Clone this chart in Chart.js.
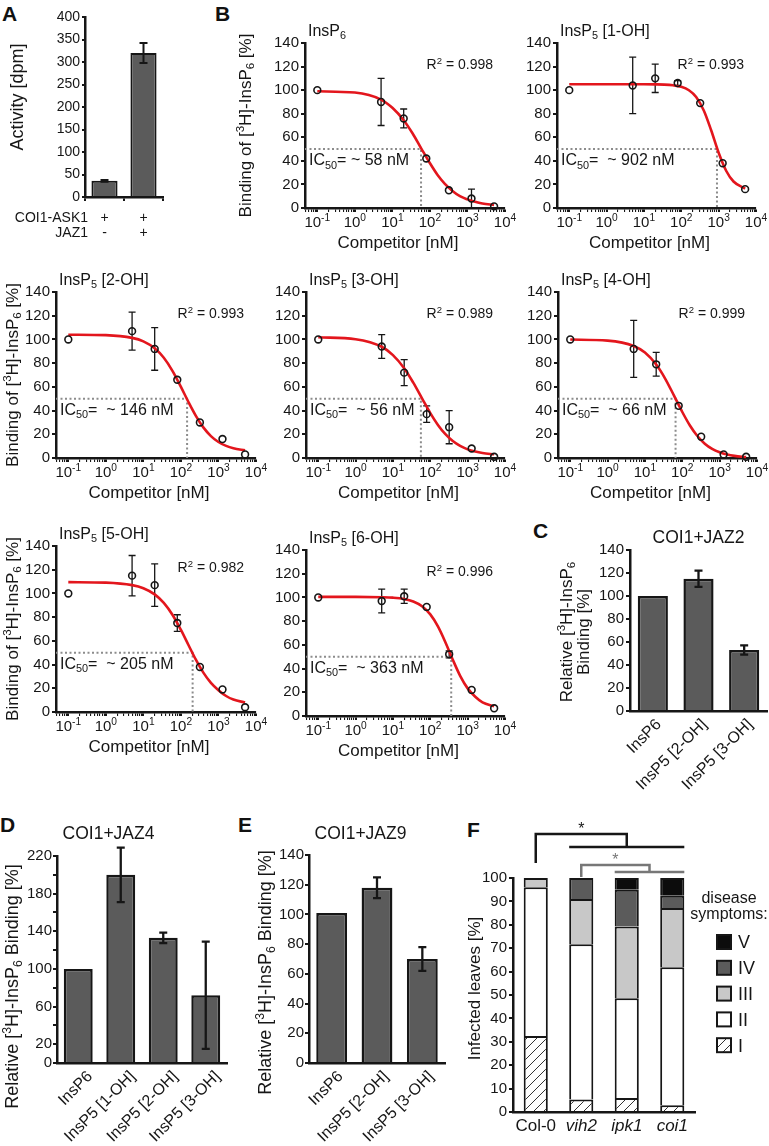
<!DOCTYPE html>
<html><head><meta charset="utf-8">
<script src="https://cdn.jsdelivr.net/npm/chart.js@4.4.1/dist/chart.umd.min.js"></script>
<style>
html,body{margin:0;padding:0;background:#fff;}
#page{position:relative;width:769px;height:1146px;overflow:hidden;}
#page canvas{position:absolute;}
.lt{position:absolute;font:bold 21px "Liberation Sans",Arial,sans-serif;line-height:1;color:#111;}
</style></head><body>
<div id="page">
  <div class="lt" style="left:2px;top:3px">A</div>
  <div class="lt" style="left:215px;top:3px">B</div>
  <div class="lt" style="left:533px;top:520px">C</div>
  <div class="lt" style="left:0px;top:814px">D</div>
  <div class="lt" style="left:238px;top:814px">E</div>
  <div class="lt" style="left:467px;top:819px">F</div>
</div>
<script>
// ---- data ----
// A: activity
const aRows=['COI1-ASK1','JAZ1'];
const aAsk=['+','+'];
const aJaz=['-','+'];
const aVal=[36,320];
const aErr=[2,22];

// B: competition curves (competitor in nM)
const conc=[0.1,5,20,80,320,1280,5120];
const fitX=[0.1,1,5,10,20,35,60,100,160,250,400,630,1000,1600,2500,5120];
const mInsP6=[100,90,76,42,15,8,1.4], sInsP6=[0,20,8,0,0,8,0];
const m1OH=[100,104,110,106,89,38,16], s1OH=[0,24,12,2,0,0,0];
const m2OH=[100,107,92,66,30,16,3],    s2OH=[0,16,18,0,0,0,0];
const m3OH=[100,94,72,37,26,8,1],      s3OH=[0,10,11,7,14,0,0];
const m4OH=[100,92,79,44,18,3,1],      s4OH=[0,24,10,0,0,0,0];
const m5OH=[100,115,107,75,38,19,4],   s5OH=[0,17,18,7,0,0,0];
const m6OH=[100,97,101,92,52,22,6.5],  s6OH=[0,10,6,0,3,0,0];
const fInsP6=[99,98,92,85,74.5,63,50,38,28,20.5,14.5,10,7.3,5.2,3.8,2.6];
const f1OH=[105,105,105,105,104.9,104.7,104.1,102.8,99.9,94.2,82.8,66,46.9,31.4,22.5,16.4];
const f2OH=[104,103.6,101.3,98.4,92.5,84.5,73.3,60,47,35.6,25.6,18.5,13.5,10.2,8.2,6.5];
const f3OH=[101.8,100.2,93.8,86.8,75.7,63.5,50.3,37.9,27.9,20.3,14.3,10.2,7.3,5.4,4.2,3.1];
const f4OH=[99.9,99,94.5,88.9,78.8,66.8,52.6,38.8,27.4,18.8,12.1,7.7,4.8,2.9,1.8,0.8];
const f5OH=[109.5,109.1,107,104.4,99.2,92,81.8,69.2,56.3,44.1,33,24.6,18.4,13.5,10.5,8];
const f6OH=[100.5,100.5,100.2,99.8,98.7,96.6,92.6,85.7,75.6,62.7,47.5,33.9,23.3,16.2,11.5,8.2];
const bIC50=[58,902,146,56,66,205,363];
const bR2=['0.998','0.993','0.993','0.989','0.999','0.982','0.996'];
const bMajor=[0.1,1,10,100,1000,10000];
const bMajorLbl=['10^{-1}','10^{0}','10^{1}','10^{2}','10^{3}','10^{4}'];

// C, D, E: relative binding
const cCats=['InsP6','InsP5 [2-OH]','InsP5 [3-OH]'];
const cVal=[100,115,53], cErr=[0,7,4];
const dCats=['InsP6','InsP5 [1-OH]','InsP5 [2-OH]','InsP5 [3-OH]'];
const dVal=[100,200,133,72], dErr=[0,29,5.5,57];
const dTickLabels=[0,20,60,100,140,180,220];
const eCats=['InsP6','InsP5 [2-OH]','InsP5 [3-OH]'];
const eVal=[101,118,70], eErr=[0,7,8];

// F: infected leaves, stacked by symptom class
const fCats=['Col-0','vih2','ipk1','coi1'];
const fLevels=['I','II','III','IV','V'];
const fI=[32.5,5.3,6,2.9];
const fII=[63.5,66.4,42.6,59];
const fIII=[4,19.3,30.7,25.3];
const fIV=[0,9,15.7,5.2];
const fV=[0,0,5,7.6];

// ---- helpers ----
const FAM='"Liberation Sans", Arial, Helvetica, sans-serif';
const INK='#161616', BAR='#5b5b5b', RED='#e3161d', DOT='#8c8c8c';
const X_MIN=0.047;
Chart.defaults.font.family=FAM;
Chart.defaults.color=INK;
Chart.defaults.animation=false;
Chart.defaults.responsive=false;
Chart.defaults.maintainAspectRatio=false;
Chart.defaults.plugins.legend.display=false;
Chart.defaults.plugins.tooltip.enabled=false;
const page=document.getElementById('page');

function box(L,T,R,B,lw,tp,rp,bh){
  const w=R-L+lw+rp,h=B-T+tp+bh,c=document.createElement('canvas');
  c.width=w;c.height=h;c.style.left=(L-lw)+'px';c.style.top=(T-tp)+'px';
  c.style.width=w+'px';c.style.height=h+'px';page.appendChild(c);return c;
}
const lay=(tp,rp)=>({padding:{top:tp,right:rp,left:0,bottom:0}});
const fitY=w=>s=>{s.width=w;s.paddingTop=0;s.paddingBottom=0;};
const fitXh=h=>s=>{s.height=h;s.paddingLeft=0;s.paddingRight=0;};

function parts(str){
  const out=[],re=/([_^])\{([^}]*)\}/g;let last=0,m;
  while((m=re.exec(str))){
    if(m.index>last)out.push({t:str.slice(last,m.index),k:0});
    out.push({t:m[2],k:m[1]==='_'?1:-1});last=re.lastIndex;
  }
  if(last<str.length)out.push({t:str.slice(last),k:0});
  return out;
}
// text with _{sub} and ^{sup}; y is the visual middle
function rich(c,str,x,y,size,align,style){
  const ps=parts(str),fnt=s=>(style?style+' ':'')+s+'px '+FAM;let w=0;
  ps.forEach(p=>{p.s=p.k?size*0.68:size;c.font=fnt(p.s);p.w=c.measureText(p.t).width;w+=p.w;});
  let cx=align==='center'?x-w/2:align==='right'?x-w:x;
  const base=y+size*0.36;
  c.textAlign='left';c.textBaseline='alphabetic';
  ps.forEach(p=>{c.font=fnt(p.s);c.fillText(p.t,cx,base+(p.k===1?size*0.2:p.k===-1?-size*0.4:0));cx+=p.w;});
}
function vrich(c,str,x,y,size){c.save();c.translate(x,y);c.rotate(-Math.PI/2);rich(c,str,0,0,size,'center');c.restore();}

function errBars(ch,di,err,cap,lw){
  const meta=ch.getDatasetMeta(di),ys=ch.scales.y,c=ch.ctx,ds=ch.data.datasets[di];
  c.save();c.strokeStyle=INK;c.lineWidth=lw;c.beginPath();
  meta.data.forEach((el,i)=>{
    const e=err[i];if(!e)return;
    const d=ds.data[i],v=(d&&typeof d==='object')?d.y:d;
    const x=el.x,y1=ys.getPixelForValue(v-e),y2=ys.getPixelForValue(v+e);
    c.moveTo(x,y1);c.lineTo(x,y2);
    c.moveTo(x-cap,y1);c.lineTo(x+cap,y1);c.moveTo(x-cap,y2);c.lineTo(x+cap,y2);
  });
  c.stroke();c.restore();
}

// log ticks 1..9 x 10^n
const logTicks=[];
for(let e=-2;e<=3;e++)for(let k=1;k<=9;k++){const v=+(k*Math.pow(10,e)).toPrecision(3);if(v>=X_MIN&&v<=1e4)logTicks.push(v);}
logTicks.push(1e4);

// ---- A ----
(function(){
  const lw=85,tp=17,rp=12,bh=48;
  const cv=box(85,17,163,197,lw,tp,rp,bh);
  new Chart(cv,{type:'bar',
    data:{labels:aAsk.map((s,i)=>s+'/'+aJaz[i]),datasets:[{data:aVal,backgroundColor:BAR,borderColor:INK,borderWidth:2,categoryPercentage:1,barPercentage:0.67}]},
    options:{layout:lay(tp,rp),scales:{
      x:{grid:{offset:true,drawOnChartArea:false,tickLength:4,color:INK,lineWidth:2},ticks:{display:false},border:{color:INK,width:2.5},afterFit:fitXh(bh)},
      y:{min:0,max:400,ticks:{stepSize:50,font:{size:14},color:INK,padding:2,autoSkip:false},grid:{drawOnChartArea:false,tickLength:3,color:INK,lineWidth:2},border:{color:INK,width:2.5},afterFit:fitY(lw)}}},
    plugins:[{id:'a',
      afterDatasetsDraw(ch){errBars(ch,0,aErr,4,2);},
      afterDraw(ch){
        const c=ch.ctx,a=ch.chartArea,xs=ch.scales.x;c.save();c.fillStyle=INK;
        rich(c,aRows[0],a.left+3,a.bottom+20,14,'right');
        rich(c,aRows[1],a.left+3,a.bottom+35,14,'right');
        aAsk.forEach((s,i)=>{const x=xs.getPixelForValue(i);rich(c,s,x,a.bottom+20,14,'center');rich(c,aJaz[i],x,a.bottom+35,14,'center');});
        vrich(c,'Activity [dpm]',a.left-68,(a.top+a.bottom)/2-10,18);
        c.restore();
      }}]
  });
})();

// ---- B ----
const bPanels=[
  {name:'InsP_{6}',       m:mInsP6,s:sInsP6,f:fInsP6,sep:' ', L:305,T:43, R:505,B:208,lw:80,yt:60.5},
  {name:'InsP_{5} [1-OH]',m:m1OH,s:s1OH,f:f1OH,sep:'  ',L:557,T:43, R:756,B:208,lw:56},
  {name:'InsP_{5} [2-OH]',m:m2OH,s:s2OH,f:f2OH,sep:'  ',L:56, T:292,R:256,B:458,lw:56,yt:44.5},
  {name:'InsP_{5} [3-OH]',m:m3OH,s:s3OH,f:f3OH,sep:'  ',L:306,T:292,R:505,B:458,lw:56},
  {name:'InsP_{5} [4-OH]',m:m4OH,s:s4OH,f:f4OH,sep:'  ',L:558,T:292,R:757,B:458,lw:56},
  {name:'InsP_{5} [5-OH]',m:m5OH,s:s5OH,f:f5OH,sep:'  ',L:56, T:546,R:256,B:712,lw:56,yt:44.5},
  {name:'InsP_{5} [6-OH]',m:m6OH,s:s6OH,f:f6OH,sep:'  ',L:306,T:550,R:505,B:716,lw:56}
];
bPanels.forEach((o,pi)=>{
  const tp=30,rp=14,bh=46;
  const cv=box(o.L,o.T,o.R,o.B,o.lw,tp,rp,bh);
  const ic=bIC50[pi];
  new Chart(cv,{type:'scatter',
    data:{datasets:[
      {data:conc.map((x,i)=>({x,y:o.m[i]})),pointRadius:3.4,pointBorderWidth:1.6,pointBorderColor:INK,pointBackgroundColor:'rgba(0,0,0,0)',order:0,clip:false},
      {type:'line',data:fitX.map((x,i)=>({x,y:o.f[i]})),borderColor:RED,borderWidth:2.6,pointRadius:0,cubicInterpolationMode:'monotone',order:1,clip:false},
      {type:'line',data:[{x:X_MIN,y:50},{x:ic,y:50},{x:ic,y:0}],borderColor:DOT,borderWidth:2,borderDash:[2,2.5],pointRadius:0,tension:0,order:2}
    ]},
    options:{layout:lay(tp,rp),scales:{
      x:{type:'logarithmic',min:X_MIN,max:1e4,
        afterBuildTicks(s){s.ticks=logTicks.map(v=>({value:v}));},
        ticks:{display:false},
        grid:{drawOnChartArea:false,tickLength:4,color:INK,lineWidth:c=>(c.tick&&bMajor.includes(c.tick.value))?2:1.1},
        border:{color:INK,width:2.5},afterFit:fitXh(bh)},
      y:{min:0,max:140,ticks:{stepSize:20,font:{size:15},color:INK,padding:2,autoSkip:false},
        grid:{drawOnChartArea:false,tickLength:4,color:INK,lineWidth:2},border:{color:INK,width:2.5},afterFit:fitY(o.lw)}}},
    plugins:[{id:'b'+pi,
      beforeDatasetsDraw(ch){errBars(ch,0,o.s,3.5,1.3);},
      afterDraw(ch){
        const c=ch.ctx,a=ch.chartArea,xs=ch.scales.x,ys=ch.scales.y;c.save();c.fillStyle=INK;
        bMajor.forEach((v,i)=>rich(c,bMajorLbl[i],xs.getPixelForValue(v),a.bottom+14,15,'center'));
        rich(c,'Competitor [nM]',(a.left+a.right)/2-7,a.bottom+34,17,'center');
        rich(c,o.name,a.left+3,a.top-13,16,'left');
        rich(c,'R^{2} = '+bR2[pi],a.right-12,ys.getPixelForValue(122),14,'right');
        rich(c,'IC_{50}='+o.sep+'~ '+ic+' nM',a.left+4,ys.getPixelForValue(41),16,'left');
        if(o.yt)vrich(c,'Binding of [^{3}H]-InsP_{6} [%]',a.left-o.yt,(a.top+a.bottom)/2,17);
        c.restore();
      }}]
  });
});

// ---- C, D, E ----
function relChart(o){
  const cv=box(o.L,o.T,o.R,o.B,o.lw,o.tp,o.rp,o.bh);
  new Chart(cv,{type:'bar',
    data:{labels:o.cats,datasets:[{data:o.val,backgroundColor:BAR,borderColor:INK,borderWidth:2.5,categoryPercentage:1,barPercentage:o.bp}]},
    options:{layout:lay(o.tp,o.rp),scales:{
      x:{grid:{display:false},ticks:{display:false},border:{color:INK,width:2.5},afterFit:fitXh(o.bh)},
      y:{min:0,max:o.max,ticks:{stepSize:20,font:{size:15},color:INK,padding:o.tpad,autoSkip:false,callback:o.cb||(v=>v)},
        grid:{drawOnChartArea:false,tickLength:4,color:INK,lineWidth:2},border:{color:INK,width:2.5},afterFit:fitY(o.lw)}}},
    plugins:[{id:o.id,
      afterDatasetsDraw(ch){errBars(ch,0,o.err,4,2.3);},
      afterDraw(ch){
        const c=ch.ctx,a=ch.chartArea,xs=ch.scales.x;c.save();c.fillStyle=INK;
        rich(c,o.title,a.left+o.tdx,a.top+o.tdy,17.5,'center');
        o.yl.forEach((s,k)=>vrich(c,s,a.left-o.yx[k],(a.top+a.bottom)/2+o.yy,o.ys));
        c.font='16px '+FAM;c.textAlign='right';c.textBaseline='middle';
        o.cats.forEach((s,i)=>{c.save();c.translate(xs.getPixelForValue(i)+o.ldx,a.bottom+11);c.rotate(-Math.PI/4);c.fillText(s,0,0);c.restore();});
        c.restore();
      }}]
  });
}
relChart({id:'c',cats:cCats,val:cVal,err:cErr,max:140,bp:0.66,tpad:2,L:630,T:550,R:767,B:711,lw:80,tp:30,rp:2,bh:89,
  title:'COI1+JAZ2',tdx:68.5,tdy:-13,yl:['Relative [^{3}H]-InsP_{6}','Binding [%]'],yx:[64.5,47.5],yy:1.5,ys:17,ldx:6});
relChart({id:'d',cats:dCats,val:dVal,err:dErr,max:220,bp:0.68,tpad:1,cb:v=>dTickLabels.includes(v)?v:'',L:57,T:856,R:227,B:1063,lw:57,tp:51,rp:13,bh:83,
  title:'COI1+JAZ4',tdx:51.5,tdy:-23,yl:['Relative [^{3}H]-InsP_{6} Binding [%]'],yx:[45.5],yy:27,ys:18,ldx:12});
relChart({id:'e',cats:eCats,val:eVal,err:eErr,max:140,bp:0.68,tpad:1,L:309,T:855,R:445,B:1063,lw:64,tp:50,rp:15,bh:83,
  title:'COI1+JAZ9',tdx:51.5,tdy:-22,yl:['Relative [^{3}H]-InsP_{6} Binding [%]'],yx:[44.5],yy:13.5,ys:18,ldx:9});

// ---- F ----
(function(){
  const lw=53,tp=63,rp=74,bh=34;
  const cv=box(513,878,695,1112,lw,tp,rp,bh);
  const p=document.createElement('canvas');p.width=p.height=10;
  const g=p.getContext('2d');g.fillStyle='#fff';g.fillRect(0,0,10,10);
  g.strokeStyle='#333';g.lineWidth=1;g.beginPath();
  g.moveTo(0,10);g.lineTo(10,0);g.moveTo(-1,1);g.lineTo(1,-1);g.moveTo(9,11);g.lineTo(11,9);g.stroke();
  const hatch=cv.getContext('2d').createPattern(p,'repeat');
  const fSeries=[fI,fII,fIII,fIV,fV];
  const fFill=[hatch,'#ffffff','#c8c8c8','#5b5b5b','#0c0c0c'];
  new Chart(cv,{type:'bar',
    data:{labels:fCats,datasets:fSeries.map((arr,k)=>({label:fLevels[k],data:arr.map(v=>v||null),backgroundColor:fFill[k],borderColor:INK,borderWidth:2,categoryPercentage:1,barPercentage:0.53}))},
    options:{layout:lay(tp,rp),scales:{
      x:{stacked:true,grid:{display:false,drawTicks:false},ticks:{padding:4,color:INK,autoSkip:false,maxRotation:0,minRotation:0,font:c=>({size:17,style:c.index>0?'italic':'normal'})},border:{color:INK,width:2.5},afterFit:fitXh(bh)},
      y:{stacked:true,min:0,max:100,ticks:{stepSize:10,font:{size:15},color:INK,padding:2,autoSkip:false},
        grid:{drawOnChartArea:false,tickLength:4,color:INK,lineWidth:2},border:{color:INK,width:2.5},afterFit:fitY(lw)}}},
    plugins:[{id:'f',afterDraw(ch){
      const c=ch.ctx,a=ch.chartArea,xs=ch.scales.x,px=i=>xs.getPixelForValue(i);
      const hw=ch.getDatasetMeta(1).data[0].width/2,t=a.top;
      c.save();c.fillStyle=INK;
      vrich(c,'Infected leaves [%]',a.left-39,(a.top+a.bottom)/2-6.5,17);
      // significance brackets
      c.lineWidth=2.5;c.strokeStyle=INK;c.beginPath();
      c.moveTo(px(0),t-15);c.lineTo(px(0),t-44);c.lineTo(px(2),t-44);c.lineTo(px(2),t-31);
      c.moveTo(px(1)-hw,t-31);c.lineTo(px(3)+hw,t-31);c.stroke();
      rich(c,'*',(px(0)+px(2))/2,t-50,16,'center');
      const g1=(px(2)+px(3))/2;
      c.strokeStyle='#777';c.beginPath();
      c.moveTo(px(1),t-1);c.lineTo(px(1),t-13);c.lineTo(g1,t-13);c.lineTo(g1,t-6);
      c.moveTo(px(2)-hw,t-6);c.lineTo(px(3)+hw,t-6);c.stroke();
      c.fillStyle='#777';rich(c,'*',(px(1)+g1)/2,t-19,16,'center');
      // legend
      c.fillStyle=INK;
      rich(c,'disease',a.right+34,t+19,16,'center');
      rich(c,'symptoms:',a.right+34,t+35,16,'center');
      const ds=ch.data.datasets;
      for(let k=ds.length-1,j=0;k>=0;k--,j++){
        const y=t+64+j*25.8,x0=a.right+22;
        c.fillStyle=ds[k].backgroundColor;c.fillRect(x0,y-7,14,14);
        c.lineWidth=2;c.strokeStyle=INK;c.strokeRect(x0,y-7,14,14);
        c.fillStyle=INK;rich(c,ds[k].label,x0+21,y,18,'left');
      }
      c.restore();
    }}]
  });
})();
</script>
</body></html>
